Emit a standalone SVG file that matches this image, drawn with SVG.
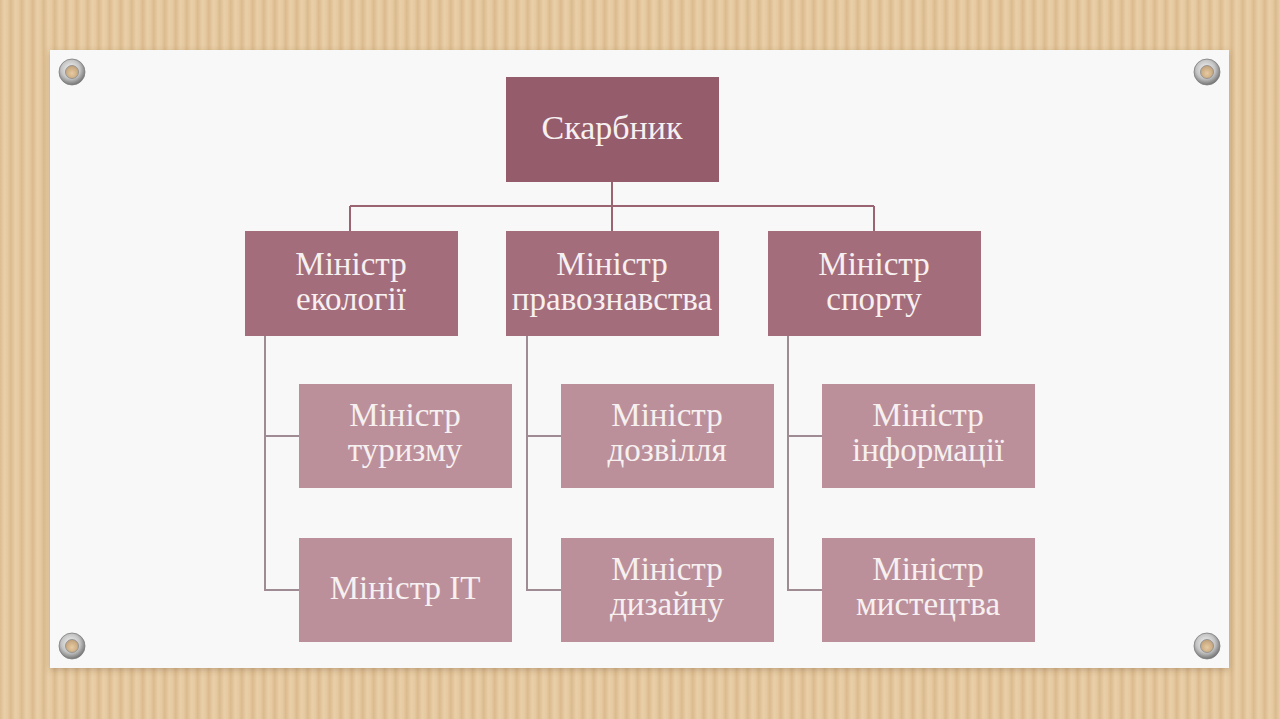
<svg xmlns="http://www.w3.org/2000/svg" width="1280" height="719" viewBox="0 0 1280 719">
  <defs>
    <!-- corrugated cardboard: soft vertical ribs -->
    <linearGradient id="rib" x1="0" y1="0" x2="1" y2="0">
      <stop offset="0" stop-color="#dcbc90"/>
      <stop offset="0.4" stop-color="#e9cfa8"/>
      <stop offset="0.7" stop-color="#e5c9a0"/>
      <stop offset="1" stop-color="#dab98c"/>
    </linearGradient>
    <pattern id="cardboard" width="11" height="20" patternUnits="userSpaceOnUse">
      <rect width="11" height="20" fill="url(#rib)"/>
    </pattern>
    <radialGradient id="ring" cx="0.45" cy="0.4" r="0.6">
      <stop offset="0" stop-color="#f6f6f6"/>
      <stop offset="0.6" stop-color="#c4c4c4"/>
      <stop offset="1" stop-color="#747474"/>
    </radialGradient>
    <radialGradient id="hole" cx="0.5" cy="0.6" r="0.6">
      <stop offset="0" stop-color="#e8cba2"/>
      <stop offset="1" stop-color="#bf9f77"/>
    </radialGradient>
    <filter id="shadow" x="-5%" y="-5%" width="110%" height="115%">
      <feDropShadow dx="0" dy="2" stdDeviation="3" flood-color="#6b4b2a" flood-opacity="0.3"/>
    </filter>
    <g id="grommet">
      <circle r="13" fill="url(#ring)" stroke="#7d7d7d" stroke-width="0.8"/>
      <circle r="6.5" fill="url(#hole)" stroke="#8a8a8a" stroke-width="0.8"/>
    </g>
  </defs>
  <style>
    .n1 { fill: #955c6c; }
    .n2 { fill: #a46d7b; }
    .n3 { fill: #bc909b; }
    .t { font-family: "Liberation Serif", "DejaVu Serif", serif; fill: #f7f0f0; text-anchor: middle; font-size: 33px; }
    .big { font-size: 34px; }
    .c1 { stroke: #9a6473; stroke-width: 2; fill: none; }
    .c2 { stroke: #9f8b93; stroke-width: 2; fill: none; }
  </style>

  <!-- backdrop -->
  <rect width="1280" height="719" fill="url(#cardboard)"/>

  <!-- paper sheet -->
  <rect x="50" y="50" width="1179" height="618" fill="#f8f8f8" filter="url(#shadow)"/>

  <!-- grommets -->
  <use href="#grommet" x="72" y="72"/>
  <use href="#grommet" x="1207" y="72"/>
  <use href="#grommet" x="72" y="646"/>
  <use href="#grommet" x="1207" y="646"/>

  <!-- connectors -->
  <g id="connectors">
    <path class="c1" d="M612 182 V231 M350 206 H874 M350 206 V231 M874 206 V231"/>
    <path class="c2" d="M265 336 V590 H299 M265 436 H299"/>
    <path class="c2" d="M527 336 V590 H561 M527 436 H561"/>
    <path class="c2" d="M788 336 V590 H822 M788 436 H822"/>
  </g>

  <!-- root -->
  <g id="skarbnyk">
    <rect class="n1" x="506" y="77" width="213" height="105"/>
    <text class="t big" x="612" y="139">Скарбник</text>
  </g>

  <!-- second level -->
  <g id="min-ekolohii">
    <rect class="n2" x="245" y="231" width="213" height="105"/>
    <text class="t" x="351" y="275">Міністр</text>
    <text class="t" x="351" y="310">екології</text>
  </g>
  <g id="min-pravoznavstva">
    <rect class="n2" x="506" y="231" width="213" height="105"/>
    <text class="t" x="612" y="275">Міністр</text>
    <text class="t" x="612" y="310">правознавства</text>
  </g>
  <g id="min-sportu">
    <rect class="n2" x="768" y="231" width="213" height="105"/>
    <text class="t" x="874" y="275">Міністр</text>
    <text class="t" x="874" y="310">спорту</text>
  </g>

  <!-- third level -->
  <g id="min-turyzmu">
    <rect class="n3" x="299" y="384" width="213" height="104"/>
    <text class="t" x="405" y="426">Міністр</text>
    <text class="t" x="405" y="461">туризму</text>
  </g>
  <g id="min-it">
    <rect class="n3" x="299" y="538" width="213" height="104"/>
    <text class="t" x="405" y="599">Міністр IT</text>
  </g>
  <g id="min-dozvillia">
    <rect class="n3" x="561" y="384" width="213" height="104"/>
    <text class="t" x="667" y="426">Міністр</text>
    <text class="t" x="667" y="461">дозвілля</text>
  </g>
  <g id="min-dyzainu">
    <rect class="n3" x="561" y="538" width="213" height="104"/>
    <text class="t" x="667" y="580">Міністр</text>
    <text class="t" x="667" y="615">дизайну</text>
  </g>
  <g id="min-informatsii">
    <rect class="n3" x="822" y="384" width="213" height="104"/>
    <text class="t" x="928" y="426">Міністр</text>
    <text class="t" x="928" y="461">інформації</text>
  </g>
  <g id="min-mystetstva">
    <rect class="n3" x="822" y="538" width="213" height="104"/>
    <text class="t" x="928" y="580">Міністр</text>
    <text class="t" x="928" y="615">мистецтва</text>
  </g>
</svg>
